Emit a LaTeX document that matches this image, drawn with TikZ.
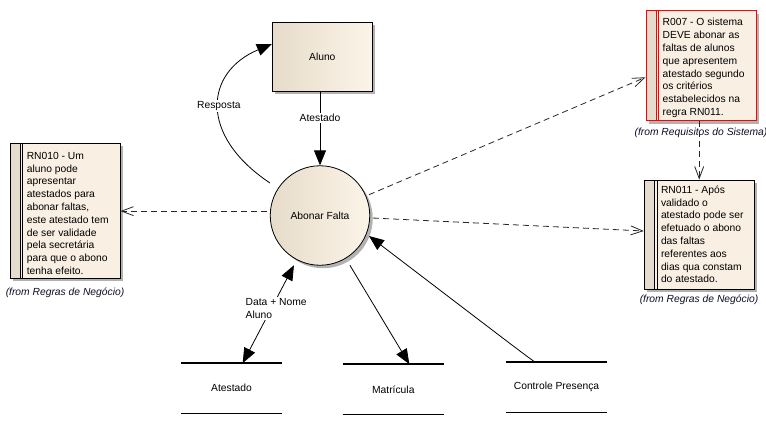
\documentclass[tikz,border=0pt]{standalone}
\usepackage{fontspec}
\setmainfont{Liberation Sans}
\usetikzlibrary{arrows, arrows.meta, positioning, shadows, calc}
\definecolor{notefill}{RGB}{249,240,227}
\definecolor{notestrip}{RGB}{230,220,205}
\definecolor{procleft}{RGB}{231,220,202}
\definecolor{procright}{RGB}{251,244,232}
\definecolor{fromtext}{RGB}{12,12,40}

\tikzset{
  dfdtip/.tip={Triangle[length=15pt,width=12pt]},
  flow/.style={draw=black, line width=0.8pt, -dfdtip},
  trace/.style={draw=black!85, line width=0.8pt, dash pattern=on 6pt off 4pt, -{Straight Barb[length=12pt,width=9pt]}},
  shade3/.style={drop shadow={shadow xshift=3pt, shadow yshift=-3pt, fill=black!30, opacity=1}},
  notebox/.style={draw=#1, fill=notefill, line width=0.8pt, minimum width=110pt, inner sep=0pt, shade3,
    path picture={
      \fill[notestrip] (path picture bounding box.north west) rectangle ([xshift=10.5pt]path picture bounding box.south west);
      \draw[#1, line width=0.8pt] ([xshift=10.5pt]path picture bounding box.north west) -- ([xshift=10.5pt]path picture bounding box.south west)
                                  ([xshift=12.8pt]path picture bounding box.north west) -- ([xshift=12.8pt]path picture bounding box.south west);
    }},
  notebox/.default=black,
  notetext/.style={align=left, inner sep=0pt, anchor=north west},
  fromlabel/.style={font=\fontsize{10.3}{12}\selectfont\itshape, text=fromtext},
  store/.style={minimum width=101pt, minimum height=50pt, inner sep=0pt},
  storeline/.style={line width=1.6pt},
  lbl/.style={fill=white, inner sep=1.5pt}
}

\begin{document}
\begin{tikzpicture}[x=1pt, y=-1pt, font=\fontsize{10.3}{12.8}\selectfont]
\useasboundingbox (0,0) rectangle (766,437);

% entidade externa e processo
\node[draw, line width=0.8pt, left color=procleft, right color=procright, minimum width=100pt, minimum height=69pt, shade3] (aluno) at (322.3,56.5) {Aluno};
\node[circle, draw, line width=0.8pt, left color=procleft, right color=procright, minimum size=99.5pt, inner sep=0pt, shade3] (abonar) at (320,215.5) {Abonar Falta};

% regras / requisitos
\node[notebox, minimum height=135pt] (rn010) at (65,210.8) {};
\node[notetext] (rn010txt) at ([xshift=17pt, yshift=-9pt]rn010.north west)
  {RN010 - Um\\aluno pode\\apresentar\\atestados para\\abonar faltas,\\este atestado tem\\de ser validade\\pela secretária\\para que o abono\\tenha efeito.};
\node[fromlabel] (rn010from) at (65,293) {(from Regras de Negócio)};

\node[notebox=red, minimum height=110pt] (r007) at (700.9,65.7) {};
\node[notetext] (r007txt) at ([xshift=17pt, yshift=-8pt]r007.north west)
  {R007 - O sistema\\DEVE abonar as\\faltas de alunos\\que apresentem\\atestado segundo\\os critérios\\estabelecidos na\\regra RN011.};
\node[fromlabel] (r007from) at (701,133) {(from Requisitos do Sistema)};

\node[notebox, minimum height=109.3pt] (rn011) at (699.2,234.6) {};
\node[notetext] (rn011txt) at ([xshift=17pt, yshift=-6pt]rn011.north west)
  {RN011 - Após\\validado o\\atestado pode ser\\efetuado o abono\\das faltas\\referentes aos\\dias qua constam\\do atestado.};
\node[fromlabel] (rn011from) at (699,300) {(from Regras de Negócio)};

% depositos de dados
\node[store] (stAtestado) at (231.5,388.3) {Atestado};
\node[store] (stMatricula) at (393.3,389.3) {Matrícula};
\node[store] (stControle) at (556.5,387.3) {Controle Presença};
\foreach \st in {stAtestado, stMatricula, stControle}
  \draw[storeline] (\st.north west) -- (\st.north east) (\st.south west) -- (\st.south east);

% fluxos
\coordinate (respStart) at (270,183);
\coordinate (ctrlBend) at (521,352);
\coordinate (ctrlEnd) at (369,236);

\draw[flow] (abonar.north |- aluno.south) -- node[lbl, pos=0.36] (lblAtestado) {Atestado} (abonar.north);
\draw[flow] (respStart) .. controls (198,135) and (205,72) .. ([yshift=12.5pt]aluno.west)
  node[lbl, pos=0.5] (lblResposta) {Resposta};
\draw[flow, dfdtip-dfdtip, shorten >=6pt] ([xshift=11.2pt]stAtestado.north) -- (abonar);
\node[lbl, anchor=west, align=left] (lblData) at (244,308.5) {Data + Nome\\Aluno};
\draw[flow, shorten <=8pt] (abonar) -- ([xshift=16pt]stMatricula.north);
\draw[flow] ([xshift=-21.5pt]stControle.north) .. controls (ctrlBend) .. (ctrlEnd);

% rastreabilidade
\draw[trace, shorten <=3pt] (abonar.175) -- (abonar.175 -| rn010.east);
\draw[trace, shorten <=3pt] (abonar) -- ([yshift=-11.6pt]r007.west);
\draw[trace, shorten <=3pt] (abonar) -- ([yshift=3.6pt]rn011.west);
\draw[trace] (rn011.north |- r007.south) -- (rn011.north);
\end{tikzpicture}
\end{document}
